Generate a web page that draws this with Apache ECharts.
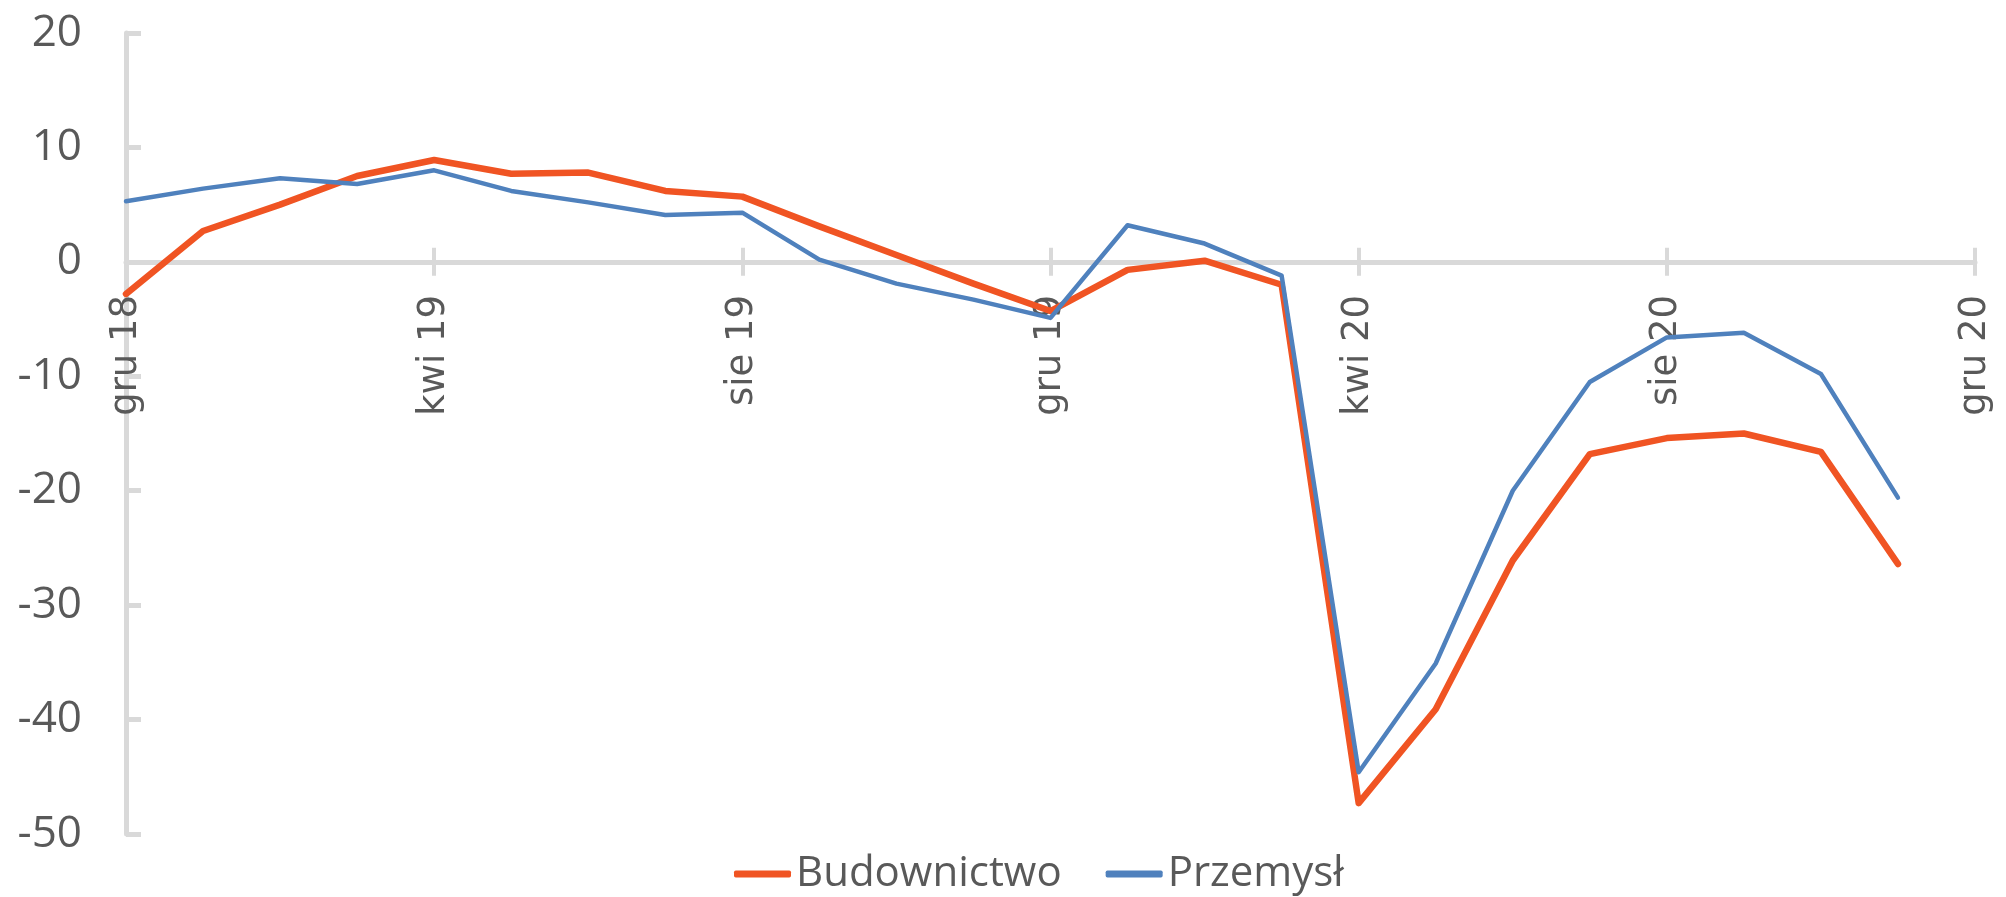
<!DOCTYPE html>
<html>
<head>
<meta charset="utf-8">
<script src="https://cdn.jsdelivr.net/npm/echarts@6/dist/echarts.min.js"></script>
<style>
  html, body { margin: 0; padding: 0; background: #fff; }
  #chart { width: 2006px; height: 897px; }
</style>
</head>
<body>
<div id="chart"></div>
<script>
// miesiące gru 18 - gru 20
const months = [
  'gru 18', 'sty 19', 'lut 19', 'mar 19', 'kwi 19', 'maj 19', 'cze 19', 'lip 19', 'sie 19', 'wrz 19', 'paź 19', 'lis 19',
  'gru 19', 'sty 20', 'lut 20', 'mar 20', 'kwi 20', 'maj 20', 'cze 20', 'lip 20', 'sie 20', 'wrz 20', 'paź 20', 'lis 20',
  'gru 20'
]

// saldo koniunktury
const budownictwo = [
  -2.8, 2.7, 5.0, 7.5, 8.9, 7.7, 7.8, 6.2, 5.7, 3.1, 0.6, -1.9,
  -4.3, -0.7, 0.1, -2.0, -47.3, -39.1, -26.1, -16.8, -15.4, -15.0, -16.6, -26.4
]
const przemysl = [
  5.3, 6.4, 7.3, 6.8, 8.0, 6.2, 5.2, 4.1, 4.3, 0.2, -1.9, -3.3,
  -4.9, 3.2, 1.6, -1.2, -44.6, -35.1, -20.0, -10.5, -6.6, -6.2, -9.8, -20.6
]

const yMin = -50
const yMax = 20
const yStep = 10

const gridColor = '#d9d9d9'
const textColor = '#595959'

// wymiary obszaru wykresu
const W = 2006
const H = 897
const grid = { left: 126, right: 31, top: 33, bottom: 63 }
const plotH = H - grid.top - grid.bottom
// oś X leży na zerze - przesunięcie liczone ze skali
const zeroFromBottom = (0 - yMin) / (yMax - yMin) * plotH
const zeroFromTop = (yMax - 0) / (yMax - yMin) * plotH

const chart = echarts.init(document.getElementById('chart'))

const option = {
  animation: false,
  grid: { ...grid, outerBoundsMode: 'none', containLabel: false },
  legend: {
    left: 734,
    top: 849,
    padding: 0,
    itemGap: 44,
    itemWidth: 57,
    itemHeight: 7,
    icon: 'roundRect',
    textStyle: { fontFamily: 'Open Sans', fontSize: 42, color: textColor, lineHeight: 50 },
    data: ['Budownictwo', 'Przemysł']
  },
  xAxis: [
    {
      type: 'category',
      position: 'bottom',
      offset: -zeroFromBottom,
      boundaryGap: false,
      data: months,
      axisLine: { onZero: false, lineStyle: { color: gridColor, width: 5 } },
      axisTick: { interval: 3, length: 14, lineStyle: { color: gridColor, width: 4 } },
      axisLabel: {
        interval: 3,
        rotate: 90,
        margin: 33,
        fontFamily: 'DejaVu Sans',
        fontSize: 37,
        color: textColor
      }
    },
    {
      type: 'category',
      position: 'top',
      offset: -zeroFromTop,
      boundaryGap: false,
      data: months,
      axisLine: { show: false, onZero: false },
      axisTick: { interval: 3, length: 14, lineStyle: { color: gridColor, width: 4 } },
      axisLabel: { show: false }
    }
  ],
  yAxis: {
    type: 'value',
    min: yMin,
    max: yMax,
    interval: yStep,
    axisLine: { show: true, lineStyle: { color: gridColor, width: 5 } },
    axisTick: { show: true, inside: true, length: 15, lineStyle: { color: gridColor, width: 5 } },
    splitLine: { show: false },
    axisLabel: { margin: 44, fontFamily: 'Open Sans', fontSize: 44, color: textColor }
  },
  series: [
    {
      name: 'Budownictwo',
      type: 'line',
      data: budownictwo,
      symbol: 'none',
      itemStyle: { color: '#f05423' },
      lineStyle: { color: '#f05423', width: 6.5, cap: 'round', join: 'round' }
    },
    {
      name: 'Przemysł',
      type: 'line',
      data: przemysl,
      symbol: 'none',
      itemStyle: { color: '#4f81bd' },
      lineStyle: { color: '#4f81bd', width: 4.5, cap: 'round', join: 'round' }
    }
  ]
}

chart.setOption(option)
</script>
</body>
</html>
